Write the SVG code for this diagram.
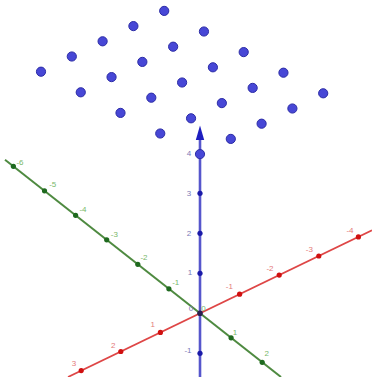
<svg xmlns="http://www.w3.org/2000/svg" width="372" height="377" viewBox="0 0 372 377">
<style>
.pt{fill:#4747d6;stroke:#2c2ca6;stroke-width:1}
.tg{fill:#1f6a1f}
.tr{fill:#d01010}
.tb{fill:#1a1aa8}
text{font-family:"Liberation Sans",Arial,sans-serif;font-size:8px;text-anchor:middle}
.lg{fill:#78b86a}
.lr{fill:#e47a7a}
.lb{fill:#7a7ab8}
</style>
<rect width="372" height="377" fill="#ffffff"/>
<g id="connectors">
<line id="axis-y" x1="5" y1="159.7" x2="281" y2="377" stroke="#4e8a40" stroke-width="2"/>
<line id="axis-x" x1="68" y1="377" x2="372" y2="230.3" stroke="#de4646" stroke-width="1.8"/>
<line id="axis-z" x1="200" y1="138" x2="200" y2="377" stroke="#5656cc" stroke-width="2.6"/>
<polygon points="200,125.5 195.8,140 204.2,140" fill="#1e1ec0"/>
</g>
<g id="ticks-y">
<circle class="tg" cx="13.4" cy="166.3" r="2.6"/>
<circle class="tg" cx="44.5" cy="190.8" r="2.6"/>
<circle class="tg" cx="75.6" cy="215.3" r="2.6"/>
<circle class="tg" cx="106.7" cy="239.8" r="2.6"/>
<circle class="tg" cx="137.8" cy="264.3" r="2.6"/>
<circle class="tg" cx="168.9" cy="288.8" r="2.6"/>
<circle class="tg" cx="231.1" cy="337.8" r="2.6"/>
<circle class="tg" cx="262.2" cy="362.3" r="2.6"/>
<text class="lg" x="20" y="164.5">-6</text>
<text class="lg" x="52.7" y="187">-5</text>
<text class="lg" x="83" y="212">-4</text>
<text class="lg" x="114.3" y="237">-3</text>
<text class="lg" x="144" y="260">-2</text>
<text class="lg" x="175.7" y="285">-1</text>
<text class="lg" x="203.5" y="310.5">0</text>
<text class="lg" x="235" y="334.5">1</text>
<text class="lg" x="266.7" y="356">2</text>
</g>
<g id="ticks-x">
<circle class="tr" cx="81.2" cy="370.6" r="2.6"/>
<circle class="tr" cx="120.8" cy="351.5" r="2.6"/>
<circle class="tr" cx="160.4" cy="332.4" r="2.6"/>
<circle class="tr" cx="239.6" cy="294.2" r="2.6"/>
<circle class="tr" cx="279.2" cy="275.1" r="2.6"/>
<circle class="tr" cx="318.8" cy="256" r="2.6"/>
<circle class="tr" cx="358.4" cy="236.9" r="2.6"/>
<text class="lr" x="74" y="366">3</text>
<text class="lr" x="113.3" y="348">2</text>
<text class="lr" x="152.7" y="327">1</text>
<text class="lr" x="229.3" y="289">-1</text>
<text class="lr" x="270" y="271">-2</text>
<text class="lr" x="309.3" y="252">-3</text>
<text class="lr" x="350" y="233">-4</text>
</g>
<g id="ticks-z">
<circle class="tb" cx="200" cy="353.3" r="2.6"/>
<circle class="tb" cx="200" cy="273.3" r="2.6"/>
<circle class="tb" cx="200" cy="233.3" r="2.6"/>
<circle class="tb" cx="200" cy="193.3" r="2.6"/>
<text class="lb" x="188" y="353">-1</text>
<text class="lb" x="190" y="275">1</text>
<text class="lb" x="189" y="236">2</text>
<text class="lb" x="189" y="196">3</text>
<text class="lb" x="189" y="155.5">4</text>
<text class="lb" x="191" y="310.5">0</text>
</g>
<g id="origin"><circle cx="200" cy="313.3" r="2.8" fill="#2a2050"/></g>
<g id="points">
<g id="p00"><circle class="pt" cx="41" cy="71.7" r="4.6"/></g>
<g id="p10"><circle class="pt" cx="71.8" cy="56.5" r="4.6"/></g>
<g id="p20"><circle class="pt" cx="102.6" cy="41.3" r="4.6"/></g>
<g id="p30"><circle class="pt" cx="133.4" cy="26.1" r="4.6"/></g>
<g id="p40"><circle class="pt" cx="164.2" cy="10.9" r="4.6"/></g>
<g id="p01"><circle class="pt" cx="80.75" cy="92.3" r="4.6"/></g>
<g id="p11"><circle class="pt" cx="111.55" cy="77.1" r="4.6"/></g>
<g id="p21"><circle class="pt" cx="142.35" cy="61.9" r="4.6"/></g>
<g id="p31"><circle class="pt" cx="173.15" cy="46.7" r="4.6"/></g>
<g id="p41"><circle class="pt" cx="203.95" cy="31.5" r="4.6"/></g>
<g id="p02"><circle class="pt" cx="120.5" cy="112.9" r="4.6"/></g>
<g id="p12"><circle class="pt" cx="151.3" cy="97.7" r="4.6"/></g>
<g id="p22"><circle class="pt" cx="182.1" cy="82.5" r="4.6"/></g>
<g id="p32"><circle class="pt" cx="212.9" cy="67.3" r="4.6"/></g>
<g id="p42"><circle class="pt" cx="243.7" cy="52.1" r="4.6"/></g>
<g id="p03"><circle class="pt" cx="160.25" cy="133.5" r="4.6"/></g>
<g id="p13"><circle class="pt" cx="191.05" cy="118.3" r="4.6"/></g>
<g id="p23"><circle class="pt" cx="221.85" cy="103.1" r="4.6"/></g>
<g id="p33"><circle class="pt" cx="252.65" cy="87.9" r="4.6"/></g>
<g id="p43"><circle class="pt" cx="283.45" cy="72.7" r="4.6"/></g>
<g id="p04"><circle class="pt" cx="200" cy="154.1" r="4.6"/></g>
<g id="p14"><circle class="pt" cx="230.8" cy="138.9" r="4.6"/></g>
<g id="p24"><circle class="pt" cx="261.6" cy="123.7" r="4.6"/></g>
<g id="p34"><circle class="pt" cx="292.4" cy="108.5" r="4.6"/></g>
<g id="p44"><circle class="pt" cx="323.2" cy="93.3" r="4.6"/></g>
</g>
</svg>
